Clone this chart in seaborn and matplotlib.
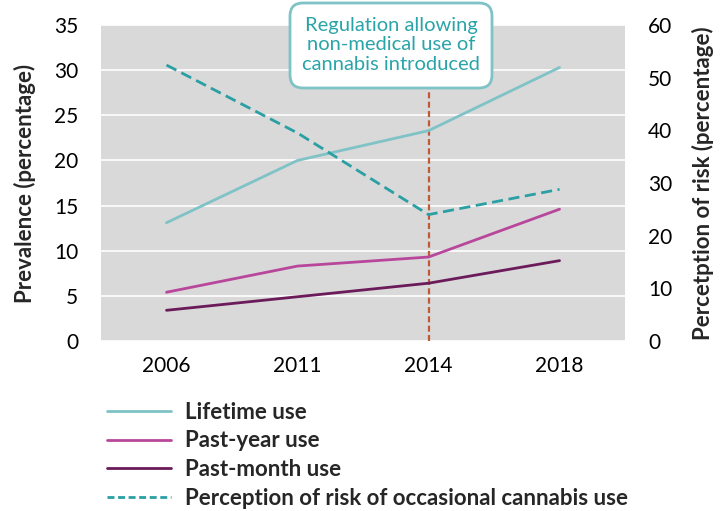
import matplotlib
matplotlib.use("Agg")
import matplotlib.pyplot as plt
from matplotlib.lines import Line2D
from matplotlib.patches import FancyBboxPatch
import seaborn as sns
import pandas as pd

years = ["2006", "2011", "2014", "2018"]
lifetime = [13.1, 20.0, 23.3, 30.3]
past_year = [5.4, 8.3, 9.3, 14.6]
past_month = [3.4, 4.9, 6.4, 8.9]
risk = [52.4, 39.5, 24.0, 28.8]

left_ticks = [0, 5, 10, 15, 20, 25, 30, 35]
right_ticks = [0, 10, 20, 30, 40, 50, 60]

series_names = ["Lifetime use", "Past-year use", "Past-month use"]
risk_name = "Perception of risk of occasional cannabis use"
annotation = "Regulation allowing\nnon-medical use of\ncannabis introduced"

colors = {"Lifetime use": "#7FC3C7", "Past-year use": "#B8479C", "Past-month use": "#6B1B5A"}
risk_color = "#2A9FA4"
vline_color = "#C0583A"

sns.set_theme(style="white")
plt.rcParams["font.family"] = ["Lato", "DejaVu Sans"]

df = pd.DataFrame({
    "year": years * 3,
    "value": lifetime + past_year + past_month,
    "series": [s for s in series_names for _ in years],
})
df_risk = pd.DataFrame({"year": years, "value": risk})

fig = plt.figure(figsize=(7.23, 5.11), dpi=100)
ax = fig.add_axes([0.1397, 0.3327, 0.7248, 0.6183])
ax.set_facecolor("#D9D9D9")

sns.lineplot(data=df, x="year", y="value", hue="series", palette=colors,
             linewidth=2, ax=ax, legend=False, sort=False)
ax.set_xlim(-0.5, 3.5)
ax.set_ylim(0, 35)
ax.set_yticks(left_ticks)
ax.yaxis.grid(True, color="white", linewidth=1.2)
ax.set_axisbelow(True)
ax.axvline(2, color=vline_color, linestyle=(0, (2.7, 1.5)), linewidth=1.6, zorder=1.5)

ax2 = ax.twinx()
sns.lineplot(data=df_risk, x="year", y="value", color=risk_color, linewidth=2,
             linestyle=(0, (4, 2)), ax=ax2, sort=False)
ax2.set_ylim(0, 60)
ax2.set_yticks(right_ticks)
ax2.set_xlim(-0.5, 3.5)

for a in (ax, ax2):
    for sp in a.spines.values():
        sp.set_visible(False)
    a.tick_params(length=0, labelsize=15, colors="#000000")
ax.tick_params(axis="y", pad=16.5)
ax.tick_params(axis="x", pad=11)
ax2.tick_params(axis="y", pad=16.5)

ax.set_xlabel("")
ax.set_ylabel("Prevalence (percentage)", fontsize=16, fontweight="bold", labelpad=13)
ax2.set_ylabel("Percetption of risk (percentage)", fontsize=16, fontweight="bold", labelpad=14)

# annotation box
box = FancyBboxPatch((290 / 723, 1 - 88 / 511), 202 / 723, 85 / 511,
                     boxstyle="round,pad=0,rounding_size=%f" % (13 / 723),
                     mutation_aspect=723 / 511, transform=fig.transFigure,
                     fc="white", ec="#7FC3C7", lw=2, zorder=10)
fig.add_artist(box)
fig.text(391 / 723, 1 - 45 / 511, annotation, ha="center", va="center",
         fontsize=14.5, color="#2AA4A8", linespacing=1.2, zorder=11)

handles = [Line2D([], [], color=colors[s], lw=2) for s in series_names]
handles.append(Line2D([], [], color=risk_color, lw=2, linestyle=(0, (2.5, 1.3))))
labels = series_names + [risk_name]
leg = fig.legend(handles, labels, loc="upper left", bbox_to_anchor=(0.1204, 0.253),
                 frameon=False, handlelength=2.9, handletextpad=0.6,
                 labelspacing=0.35, prop={"weight": "bold", "size": 16})

fig.savefig("out.png", dpi=100)
